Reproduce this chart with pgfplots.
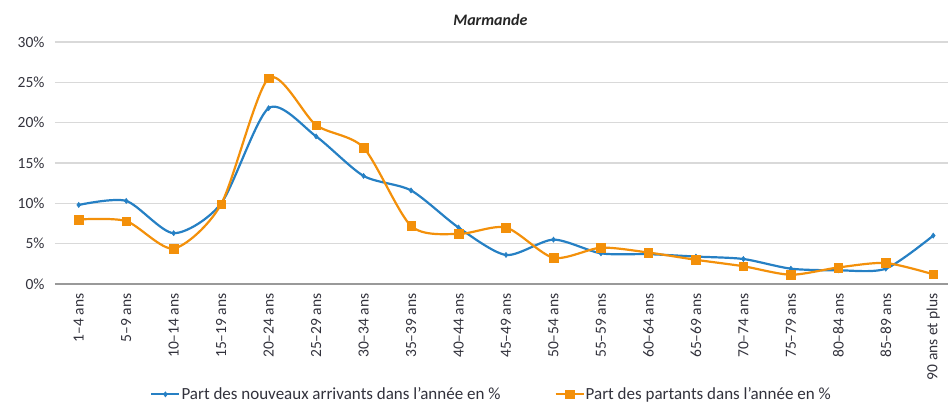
\documentclass[border=0pt]{standalone}
\usepackage{pgfplots}
\pgfplotsset{compat=1.18}
\usepackage{fontspec}
\setmainfont{Carlito}
\definecolor{cblue}{RGB}{38,128,196}
\definecolor{corange}{RGB}{243,144,10}
\definecolor{cgrid}{RGB}{217,217,217}
\definecolor{ctext}{RGB}{50,50,60}
\pgfplotstableread{
x arr dep
0 9.8 8.0
1 10.3 7.8
2 6.3 4.4
3 10.0 9.9
4 21.8 25.5
5 18.3 19.7
6 13.4 16.9
7 11.6 7.2
8 7.0 6.2
9 3.6 7.0
10 5.5 3.25
11 3.8 4.5
12 3.7 3.9
13 3.4 3.0
14 3.1 2.2
15 1.9 1.15
16 1.7 2.05
17 1.9 2.6
18 6.0 1.2
}\datatable
\begin{document}
\begin{tikzpicture}
\begin{axis}[
  scale only axis,
  width=902bp, height=242bp,
  xmin=-0.5, xmax=18.5,
  ymin=0, ymax=30,
  ytick={0,5,...,30},
  yticklabel={\pgfmathprintnumber{\tick}\%},
  /pgf/number format/assume math mode=true,
  yticklabel style={font=\fontsize{15.5bp}{17bp}\selectfont, text=ctext, xshift=-7bp},
  ymajorgrids,
  grid style={cgrid, line width=1.1bp},
  xtick={0,...,18},
  xticklabels={1–4 ans,5–9 ans,10–14 ans,15–19 ans,20–24 ans,25–29 ans,30–34 ans,35–39 ans,40–44 ans,45–49 ans,50–54 ans,55–59 ans,60–64 ans,65–69 ans,70–74 ans,75–79 ans,80–84 ans,85–89 ans,90 ans et plus},
  xticklabel style={rotate=90, anchor=east, font=\fontsize{15.5bp}{17bp}\selectfont, text=ctext, yshift=0bp, xshift=-6bp},
  major x tick style={draw=none},
  extra x ticks={-0.5,0.5,...,18.5},
  extra x tick labels={},
  extra x tick style={major tick length=5bp, tick align=outside, tick style={gray, line width=0.8bp}, grid=none},
  axis lines*=left,
  x axis line style={gray!80, line width=1.1bp},
  y axis line style={draw=none},
  major y tick style={draw=none},
  legend columns=2,
  legend style={draw=none, at={(0.4834,-0.456)}, anchor=center,
    font=\fontsize{17bp}{19bp}\selectfont, text=ctext,
    /tikz/every even column/.append style={column sep=53bp},
    nodes={inner sep=1bp}},
  legend image code/.code={\draw[mark repeat=2,mark phase=2,#1] plot coordinates {(0bp,0bp) (14bp,0bp) (28bp,0bp)};},
  clip=false,
]
\addplot[cblue, line width=2.2bp, smooth, tension=0.45, mark=diamond*, mark size=2.6bp, mark options={solid, fill=cblue, line width=0.5bp}] table[x=x,y=arr] {\datatable};
\addlegendentry{Part des nouveaux arrivants dans l'année en \%}
\addplot[corange, line width=2.2bp, smooth, tension=0.45, mark=square*, mark size=4.3bp, mark options={solid, fill=corange, line width=0.5bp}] table[x=x,y=dep] {\datatable};
\addlegendentry{Part des partants dans l'année en \%}
\node[font=\fontsize{16bp}{18bp}\selectfont\bfseries\itshape, text=black!85] at (axis cs:8.67,30) [yshift=22bp] {Marmande};
\end{axis}
\pgfresetboundingbox
\useasboundingbox (-55bp,-121bp) rectangle (893bp,284bp);
\end{tikzpicture}
\end{document}
